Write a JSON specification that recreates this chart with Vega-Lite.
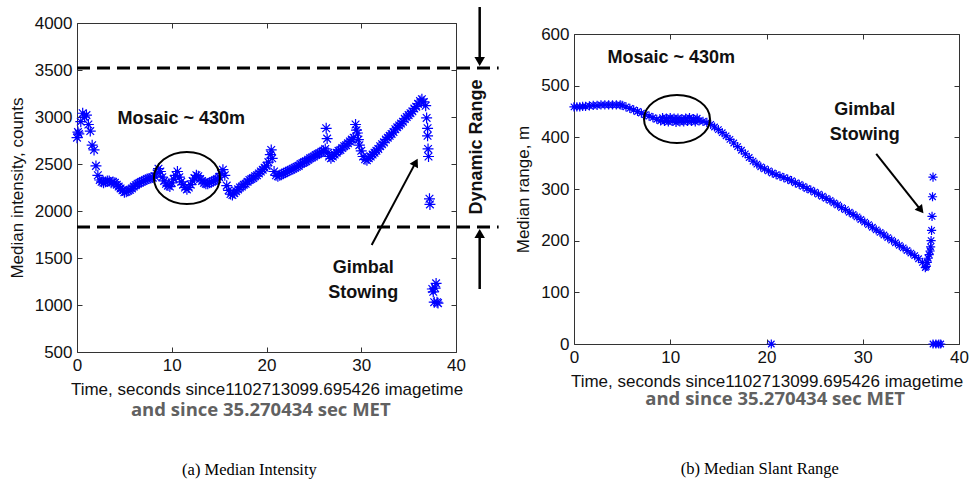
{
  "$schema": "https://vega.github.io/schema/vega-lite/v6.json",
  "padding": {"left": 7, "top": 5, "right": 0, "bottom": 0},
  "background": "white",
  "spacing": 13,
  "config": {
    "view": {"stroke": "#333", "strokeWidth": 1},
    "axis": {
      "labelFont": "Liberation Sans", "labelFontSize": 17, "labelColor": "#111",
      "titleFont": "Liberation Sans", "titleFontSize": 17, "titleFontWeight": "normal", "titleColor": "#111",
      "tickColor": "#333", "tickSize": 5, "tickWidth": 1, "offset": -5, "grid": false, "domain": false,
      "labelFlush": false, "labelOverlap": false, "labelPadding": 5, "titlePadding": 8, "format": "d", "zindex": 1
    },
    "text": {"font": "Liberation Sans", "fontWeight": "bold", "fontSize": 18, "align": "center", "baseline": "middle", "color": "#111"}
  },
  "datasets": {
    "one": [{}],
    "intensity": [
      {"t":0.0,"v":2780},{"t":0.1,"v":2840},{"t":0.2,"v":2820},{"t":0.4,"v":2950},{"t":0.6,"v":3040},{"t":0.8,"v":3000},{"t":1.0,"v":3020},{"t":1.2,"v":2920},{"t":1.4,"v":2850},{"t":1.6,"v":2700},{"t":1.8,"v":2650},{"t":2.0,"v":2480},{"t":2.2,"v":2380},{"t":2.4,"v":2330},{"t":2.6,"v":2310},{"t":2.8,"v":2300},{"t":3.0,"v":2310},{"t":3.2,"v":2320},{"t":3.4,"v":2320},{"t":3.6,"v":2300},{"t":3.8,"v":2310},{"t":4.0,"v":2300},{"t":4.2,"v":2280},{"t":4.4,"v":2260},{"t":4.6,"v":2240},{"t":4.8,"v":2220},{"t":5.0,"v":2200},{"t":5.2,"v":2205},{"t":5.4,"v":2215},{"t":5.6,"v":2225},{"t":5.8,"v":2240},{"t":6.0,"v":2260},{"t":6.2,"v":2275},{"t":6.4,"v":2290},{"t":6.6,"v":2300},{"t":6.8,"v":2310},{"t":7.0,"v":2320},{"t":7.2,"v":2330},{"t":7.4,"v":2340},{"t":7.6,"v":2345},{"t":7.8,"v":2350},{"t":8.0,"v":2355},{"t":8.2,"v":2370},{"t":8.4,"v":2400},{"t":8.6,"v":2450},{"t":8.8,"v":2420},{"t":9.0,"v":2360},{"t":9.2,"v":2320},{"t":9.4,"v":2290},{"t":9.6,"v":2270},{"t":9.8,"v":2260},{"t":10.0,"v":2300},{"t":10.2,"v":2340},{"t":10.4,"v":2380},{"t":10.6,"v":2420},{"t":10.8,"v":2360},{"t":11.0,"v":2310},{"t":11.2,"v":2280},{"t":11.4,"v":2250},{"t":11.6,"v":2230},{"t":11.8,"v":2250},{"t":12.0,"v":2280},{"t":12.2,"v":2320},{"t":12.4,"v":2350},{"t":12.6,"v":2380},{"t":12.8,"v":2370},{"t":13.0,"v":2340},{"t":13.2,"v":2320},{"t":13.4,"v":2300},{"t":13.6,"v":2290},{"t":13.8,"v":2290},{"t":14.0,"v":2300},{"t":14.2,"v":2310},{"t":14.4,"v":2320},{"t":14.6,"v":2330},{"t":14.8,"v":2340},{"t":15.0,"v":2360},{"t":15.2,"v":2400},{"t":15.4,"v":2440},{"t":15.6,"v":2380},{"t":15.8,"v":2270},{"t":16.0,"v":2220},{"t":16.2,"v":2180},{"t":16.4,"v":2170},{"t":16.6,"v":2190},{"t":16.8,"v":2210},{"t":17.0,"v":2230},{"t":17.2,"v":2250},{"t":17.4,"v":2260},{"t":17.6,"v":2280},{"t":17.8,"v":2290},{"t":18.0,"v":2310},{"t":18.2,"v":2330},{"t":18.4,"v":2340},{"t":18.6,"v":2350},{"t":18.8,"v":2370},{"t":19.0,"v":2380},{"t":19.2,"v":2400},{"t":19.4,"v":2420},{"t":19.6,"v":2440},{"t":19.8,"v":2460},{"t":20.0,"v":2480},{"t":20.2,"v":2520},{"t":20.4,"v":2600},{"t":20.5,"v":2650},{"t":20.6,"v":2560},{"t":20.8,"v":2420},{"t":21.0,"v":2380},{"t":21.2,"v":2370},{"t":21.4,"v":2380},{"t":21.6,"v":2390},{"t":21.8,"v":2400},{"t":22.0,"v":2410},{"t":22.2,"v":2420},{"t":22.4,"v":2430},{"t":22.6,"v":2440},{"t":22.8,"v":2450},{"t":23.0,"v":2460},{"t":23.2,"v":2470},{"t":23.4,"v":2480},{"t":23.6,"v":2500},{"t":23.8,"v":2510},{"t":24.0,"v":2520},{"t":24.2,"v":2530},{"t":24.4,"v":2545},{"t":24.6,"v":2560},{"t":24.8,"v":2570},{"t":25.0,"v":2580},{"t":25.2,"v":2595},{"t":25.4,"v":2605},{"t":25.6,"v":2615},{"t":25.8,"v":2630},{"t":26.0,"v":2640},{"t":26.2,"v":2660},{"t":26.3,"v":2880},{"t":26.4,"v":2770},{"t":26.5,"v":2620},{"t":26.6,"v":2580},{"t":26.8,"v":2560},{"t":27.0,"v":2580},{"t":27.2,"v":2600},{"t":27.4,"v":2620},{"t":27.6,"v":2640},{"t":27.8,"v":2650},{"t":28.0,"v":2670},{"t":28.2,"v":2690},{"t":28.4,"v":2700},{"t":28.6,"v":2720},{"t":28.8,"v":2740},{"t":29.0,"v":2760},{"t":29.2,"v":2780},{"t":29.4,"v":2920},{"t":29.5,"v":2860},{"t":29.6,"v":2830},{"t":29.7,"v":2760},{"t":29.8,"v":2700},{"t":30.0,"v":2640},{"t":30.2,"v":2580},{"t":30.4,"v":2550},{"t":30.6,"v":2540},{"t":30.8,"v":2560},{"t":31.0,"v":2580},{"t":31.2,"v":2600},{"t":31.4,"v":2620},{"t":31.6,"v":2640},{"t":31.8,"v":2660},{"t":32.0,"v":2690},{"t":32.2,"v":2710},{"t":32.4,"v":2730},{"t":32.6,"v":2760},{"t":32.8,"v":2780},{"t":33.0,"v":2800},{"t":33.2,"v":2820},{"t":33.4,"v":2840},{"t":33.6,"v":2870},{"t":33.8,"v":2890},{"t":34.0,"v":2910},{"t":34.2,"v":2930},{"t":34.4,"v":2950},{"t":34.6,"v":2980},{"t":34.8,"v":3000},{"t":35.0,"v":3020},{"t":35.2,"v":3040},{"t":35.4,"v":3060},{"t":35.6,"v":3090},{"t":35.8,"v":3110},{"t":36.0,"v":3140},{"t":36.2,"v":3170},{"t":36.4,"v":3190},{"t":36.6,"v":3160},{"t":36.8,"v":3120},{"t":36.9,"v":2990},{"t":37.0,"v":2880},{"t":37.0,"v":2800},{"t":37.05,"v":2660},{"t":37.1,"v":2580},{"t":37.2,"v":2130},{"t":37.25,"v":2070},{"t":37.5,"v":1170},{"t":37.6,"v":1140},{"t":37.8,"v":1180},{"t":37.9,"v":1230},{"t":37.7,"v":1030},{"t":38.0,"v":1030},{"t":38.1,"v":1020}
    ],
    "range": [
      {"t":0.0,"v":459},{"t":0.3,"v":459},{"t":0.6,"v":459},{"t":0.9,"v":460},{"t":1.2,"v":460},{"t":1.6,"v":461},{"t":2.0,"v":462},{"t":2.4,"v":462},{"t":2.8,"v":463},{"t":3.2,"v":463},{"t":3.6,"v":463},{"t":4.0,"v":463},{"t":4.4,"v":463},{"t":4.8,"v":463},{"t":5.0,"v":462},{"t":5.4,"v":459},{"t":5.8,"v":456},{"t":6.2,"v":453},{"t":6.6,"v":450},{"t":7.0,"v":447},{"t":7.4,"v":444},{"t":7.8,"v":441},{"t":8.2,"v":438},{"t":8.6,"v":435},{"t":9.0,"v":432},{"t":9.2,"v":438},{"t":9.4,"v":431},{"t":9.6,"v":437},{"t":9.8,"v":430},{"t":10.0,"v":438},{"t":10.2,"v":431},{"t":10.4,"v":437},{"t":10.6,"v":429},{"t":10.8,"v":437},{"t":11.0,"v":430},{"t":11.2,"v":436},{"t":11.4,"v":430},{"t":11.6,"v":437},{"t":11.8,"v":431},{"t":12.0,"v":438},{"t":12.2,"v":431},{"t":12.4,"v":436},{"t":12.6,"v":430},{"t":12.8,"v":437},{"t":13.0,"v":432},{"t":13.4,"v":431},{"t":13.8,"v":429},{"t":14.2,"v":425},{"t":14.6,"v":420},{"t":15.0,"v":415},{"t":15.4,"v":409},{"t":15.8,"v":403},{"t":16.2,"v":396},{"t":16.6,"v":389},{"t":17.0,"v":382},{"t":17.4,"v":375},{"t":17.8,"v":368},{"t":18.2,"v":361},{"t":18.6,"v":354},{"t":19.0,"v":348},{"t":19.4,"v":343},{"t":19.8,"v":339},{"t":20.2,"v":335},{"t":20.6,"v":331},{"t":21.0,"v":328},{"t":21.4,"v":325},{"t":21.8,"v":322},{"t":22.2,"v":319},{"t":22.6,"v":316},{"t":23.0,"v":312},{"t":23.4,"v":309},{"t":23.8,"v":305},{"t":24.2,"v":301},{"t":24.6,"v":298},{"t":25.0,"v":294},{"t":25.4,"v":290},{"t":25.8,"v":286},{"t":26.2,"v":282},{"t":26.6,"v":278},{"t":27.0,"v":273},{"t":27.4,"v":269},{"t":27.8,"v":264},{"t":28.2,"v":260},{"t":28.6,"v":255},{"t":29.0,"v":251},{"t":29.4,"v":246},{"t":29.8,"v":241},{"t":30.2,"v":236},{"t":30.6,"v":231},{"t":31.0,"v":226},{"t":31.4,"v":221},{"t":31.8,"v":216},{"t":32.2,"v":211},{"t":32.6,"v":206},{"t":33.0,"v":201},{"t":33.4,"v":196},{"t":33.8,"v":191},{"t":34.2,"v":186},{"t":34.6,"v":181},{"t":35.0,"v":176},{"t":35.4,"v":171},{"t":35.8,"v":165},{"t":36.2,"v":158},{"t":36.5,"v":148},{"t":36.6,"v":150},{"t":36.7,"v":158},{"t":36.8,"v":166},{"t":36.9,"v":173},{"t":37.0,"v":180},{"t":37.05,"v":188},{"t":37.1,"v":200},{"t":37.15,"v":220},{"t":37.2,"v":247},{"t":37.25,"v":285},{"t":37.3,"v":323},{"t":20.5,"v":0},{"t":37.3,"v":0},{"t":37.6,"v":0},{"t":37.9,"v":0},{"t":38.1,"v":0}
    ]
  },
  "hconcat": [
    {
      "width": 379, "height": 329,
      "resolve": {"axis": {"x": "independent", "y": "independent"}},
      "layer": [
        {
          "data": {"name": "intensity"},
          "mark": {"type": "point", "shape": "M-1,0H1M0,-1V1M-0.7,-0.7L0.7,0.7M-0.7,0.7L0.7,-0.7", "filled": false, "stroke": "#0000ff", "strokeWidth": 1.2, "size": 120, "opacity": 1},
          "encoding": {
            "x": {"field": "t", "type": "quantitative", "scale": {"domain": [0, 40], "nice": false}, "axis": {"title": "Time, seconds since1102713099.695426 imagetime", "values": [0, 10, 20, 30, 40]}},
            "y": {"field": "v", "type": "quantitative", "scale": {"domain": [500, 4000], "nice": false, "zero": false}, "axis": {"title": "Median intensity, counts", "values": [500, 1000, 1500, 2000, 2500, 3000, 3500, 4000]}}
          }
        },
        {
          "data": {"values": [{"t": 0, "v": 500}]},
          "mark": {"type": "point", "opacity": 0},
          "encoding": {
            "x": {"field": "t", "type": "quantitative", "axis": {"orient": "top", "labels": false, "title": null, "values": [0, 10, 20, 30, 40]}},
            "y": {"field": "v", "type": "quantitative", "axis": {"orient": "right", "labels": false, "title": null, "values": [500, 1000, 1500, 2000, 2500, 3000, 3500, 4000]}}
          }
        },
        {
          "data": {"values": [{"level": 3520}, {"level": 1830}]},
          "mark": {"type": "rule", "stroke": "#000", "strokeWidth": 3, "strokeDash": [13, 7]},
          "encoding": {"x": {"datum": 0, "axis": null}, "x2": {"datum": 44.5}, "y": {"field": "level", "type": "quantitative", "axis": null}}
        },
        {
          "data": {"values": [{"x": 42.5, "y1": 4170, "y2": 3596}, {"x": 42.5, "y1": 1170, "y2": 1755}]},
          "mark": {"type": "rule", "stroke": "#000", "strokeWidth": 2.5},
          "encoding": {"x": {"field": "x", "type": "quantitative", "axis": null}, "y": {"field": "y1", "type": "quantitative", "axis": null}, "y2": {"field": "y2"}}
        },
        {
          "data": {"name": "one"},
          "mark": {"type": "point", "shape": "triangle-down", "filled": true, "fill": "#000", "size": 110, "opacity": 1},
          "encoding": {"x": {"datum": 42.5, "axis": null}, "y": {"datum": 3590, "axis": null}}
        },
        {
          "data": {"name": "one"},
          "mark": {"type": "point", "shape": "triangle-up", "filled": true, "fill": "#000", "size": 110, "opacity": 1},
          "encoding": {"x": {"datum": 42.5, "axis": null}, "y": {"datum": 1760, "axis": null}}
        },
        {
          "data": {"name": "one"},
          "mark": {"type": "rule", "stroke": "#000", "strokeWidth": 2},
          "encoding": {"x": {"datum": 31.1, "axis": null}, "y": {"datum": 1638, "axis": null}, "x2": {"datum": 35.75}, "y2": {"datum": 2517}}
        },
        {
          "data": {"name": "one"},
          "mark": {"type": "point", "shape": "triangle-up", "angle": 28, "filled": true, "fill": "#000", "size": 90, "opacity": 1},
          "encoding": {"x": {"datum": 35.75, "axis": null}, "y": {"datum": 2517, "axis": null}}
        },
        {
          "data": {"name": "one"},
          "mark": {"type": "point", "shape": "M-1,0C-1,-0.436,-0.552,-0.79,0,-0.79C0.552,-0.79,1,-0.436,1,0C1,0.436,0.552,0.79,0,0.79C-0.552,0.79,-1,0.436,-1,0Z", "filled": false, "stroke": "#000", "strokeWidth": 2, "size": 4356, "opacity": 1},
          "encoding": {"x": {"datum": 11.6, "axis": null}, "y": {"datum": 2351, "axis": null}}
        },
        {
          "data": {"values": [{"label": "Mosaic ~ 430m", "x": 11.0, "y": 2979}, {"label": "Gimbal", "x": 30.2, "y": 1394}, {"label": "Stowing", "x": 30.2, "y": 1128}]},
          "mark": {"type": "text"},
          "encoding": {"x": {"field": "x", "type": "quantitative", "axis": null}, "y": {"field": "y", "type": "quantitative", "axis": null}, "text": {"field": "label"}}
        },
        {
          "data": {"name": "one"},
          "mark": {"type": "text", "text": "Dynamic Range", "angle": 270},
          "encoding": {"x": {"datum": 42.2, "axis": null}, "y": {"datum": 2681, "axis": null}}
        },
        {
          "data": {"name": "one"},
          "mark": {"type": "text", "text": "and since 35.270434 sec MET", "font": "Open Sans", "fontSize": 18.5, "color": "#616161"},
          "encoding": {"x": {"datum": 19.4, "axis": null}, "y": {"datum": -117, "axis": null}}
        },
        {
          "data": {"name": "one"},
          "mark": {"type": "text", "text": "(a) Median Intensity", "font": "Liberation Serif", "fontWeight": "normal", "fontSize": 16.5, "color": "#000"},
          "encoding": {"x": {"datum": 18.2, "axis": null}, "y": {"datum": -755, "axis": null}}
        }
      ]
    },
    {
      "spacing": 0,
      "vconcat": [
        {
          "width": 385, "height": 0.5,
          "view": {"stroke": null},
          "data": {"name": "one"},
          "mark": {"type": "point", "size": 0, "opacity": 0}
        },
        {
          "width": 385, "height": 310,
          "resolve": {"axis": {"x": "independent", "y": "independent"}},
          "layer": [
            {
              "data": {"name": "range"},
              "mark": {"type": "point", "shape": "M-1,0H1M0,-1V1M-0.7,-0.7L0.7,0.7M-0.7,0.7L0.7,-0.7", "filled": false, "stroke": "#0000ff", "strokeWidth": 1.2, "size": 85, "opacity": 1},
              "encoding": {
                "x": {"field": "t", "type": "quantitative", "scale": {"domain": [0, 40], "nice": false}, "axis": {"title": "Time, seconds since1102713099.695426 imagetime", "values": [0, 10, 20, 30, 40]}},
                "y": {"field": "v", "type": "quantitative", "scale": {"domain": [0, 600], "nice": false}, "axis": {"title": "Median range, m", "values": [0, 100, 200, 300, 400, 500, 600]}}
              }
            },
            {
              "data": {"values": [{"t": 0, "v": 0}]},
              "mark": {"type": "point", "opacity": 0},
              "encoding": {
                "x": {"field": "t", "type": "quantitative", "axis": {"orient": "top", "labels": false, "title": null, "values": [0, 10, 20, 30, 40]}},
                "y": {"field": "v", "type": "quantitative", "axis": {"orient": "right", "labels": false, "title": null, "values": [0, 100, 200, 300, 400, 500, 600]}}
              }
            },
            {
              "data": {"name": "one"},
              "mark": {"type": "rule", "stroke": "#000", "strokeWidth": 2},
              "encoding": {"x": {"datum": 31.4, "axis": null}, "y": {"datum": 367.8, "axis": null}, "x2": {"datum": 36.04}, "y2": {"datum": 259.2}}
            },
            {
              "data": {"name": "one"},
              "mark": {"type": "point", "shape": "triangle-up", "angle": 141.3, "filled": true, "fill": "#000", "size": 90, "opacity": 1},
              "encoding": {"x": {"datum": 36.04, "axis": null}, "y": {"datum": 259.2, "axis": null}}
            },
            {
              "data": {"name": "one"},
              "mark": {"type": "point", "shape": "M-1,0C-1,-0.402,-0.552,-0.727,0,-0.727C0.552,-0.727,1,-0.402,1,0C1,0.402,0.552,0.727,0,0.727C-0.552,0.727,-1,0.402,-1,0Z", "filled": false, "stroke": "#000", "strokeWidth": 2, "size": 4356, "opacity": 1},
              "encoding": {"x": {"datum": 10.7, "axis": null}, "y": {"datum": 435.5, "axis": null}}
            },
            {
              "data": {"values": [{"label": "Mosaic ~ 430m", "x": 10.1, "y": 553.6}, {"label": "Gimbal", "x": 30.2, "y": 453}, {"label": "Stowing", "x": 30.2, "y": 404.6}]},
              "mark": {"type": "text"},
              "encoding": {"x": {"field": "x", "type": "quantitative", "axis": null}, "y": {"field": "y", "type": "quantitative", "axis": null}, "text": {"field": "label"}}
            },
            {
              "data": {"name": "one"},
              "mark": {"type": "text", "text": "and since 35.270434 sec MET", "font": "Open Sans", "fontSize": 18.5, "color": "#616161"},
              "encoding": {"x": {"datum": 20.9, "axis": null}, "y": {"datum": -107, "axis": null}}
            },
            {
              "data": {"name": "one"},
              "mark": {"type": "text", "text": "(b) Median Slant Range", "font": "Liberation Serif", "fontWeight": "normal", "fontSize": 16.5, "color": "#000"},
              "encoding": {"x": {"datum": 19.3, "axis": null}, "y": {"datum": -241.7, "axis": null}}
            }
          ]
        }
      ]
    }
  ]
}
